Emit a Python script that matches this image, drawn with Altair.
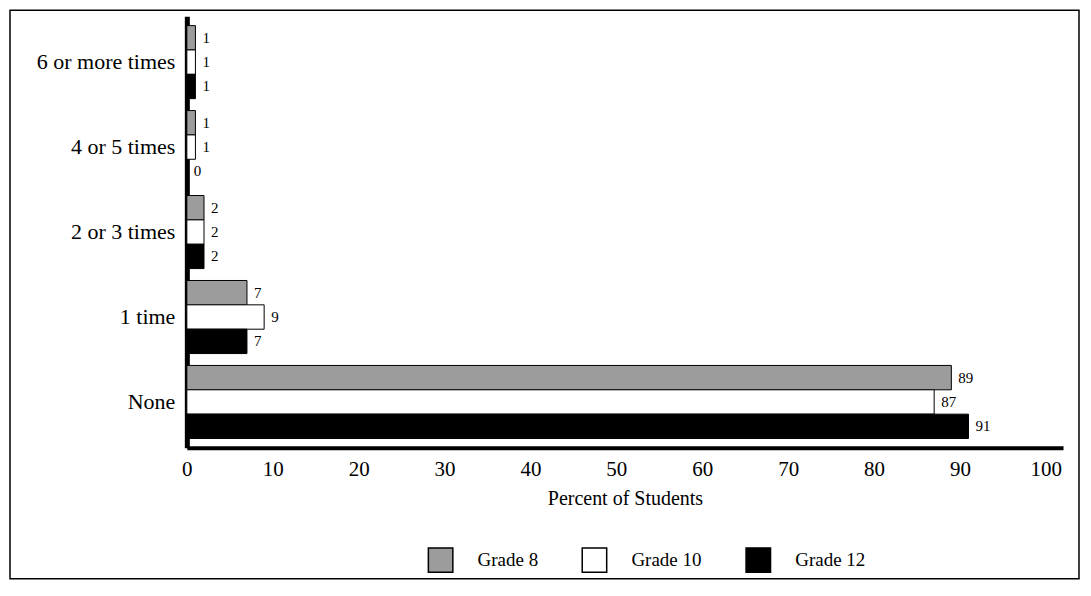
import altair as alt
import pandas as pd

categories = ["6 or more times", "4 or 5 times", "2 or 3 times", "1 time", "None"]
grades = ["Grade 8", "Grade 10", "Grade 12"]
grade8 = [1, 1, 2, 7, 89]
grade10 = [1, 1, 2, 9, 87]
grade12 = [1, 0, 2, 7, 91]
x_ticks = [0, 10, 20, 30, 40, 50, 60, 70, 80, 90, 100]
grade_colors = ["#9c9c9c", "#ffffff", "#000000"]

rows = []
for series, name in zip([grade8, grade10, grade12], grades):
    for cat, v in zip(categories, series):
        rows.append({"category": cat, "grade": name, "value": v})
df = pd.DataFrame(rows)

FONT = "Liberation Serif"

base = alt.Chart(df).encode(
    y=alt.Y(
        "category:N",
        sort=categories,
        scale=alt.Scale(paddingInner=0.14, paddingOuter=0.11),
        axis=alt.Axis(
            title=None, ticks=False, labelPadding=12, labelFontSize=22,
            labelFont=FONT, labelColor="black", domainColor="black",
            domainWidth=5, labelLimit=300,
        ),
    ),
    yOffset=alt.YOffset("grade:N", sort=grades,
                        scale=alt.Scale(paddingInner=0, paddingOuter=0)),
    x=alt.X(
        "value:Q",
        scale=alt.Scale(domain=[0, 102], nice=False),
        axis=alt.Axis(
            title="Percent of Students", values=x_ticks, ticks=False,
            grid=False, labelPadding=11, labelFontSize=21, labelFont=FONT,
            labelColor="black", domainColor="black", domainWidth=4,
            titleFont=FONT, titleFontSize=20, titleFontWeight="normal",
            titleColor="black", titlePadding=9, labelFlush=False,
        ),
    ),
)

bars = base.mark_bar(stroke="black", strokeWidth=1).encode(
    color=alt.Color(
        "grade:N",
        sort=grades,
        scale=alt.Scale(domain=grades, range=grade_colors),
        legend=alt.Legend(
            title=None, orient="none", direction="horizontal",
            legendX=241, legendY=531, symbolType="square", symbolSize=600,
            symbolStrokeColor="black", symbolStrokeWidth=1.5,
            labelFont=FONT, labelFontSize=19, labelColor="black",
            labelOffset=24, columnPadding=40,
        ),
    )
)

labels = base.mark_text(align="left", dx=7, fontSize=15, font=FONT,
                        color="black").encode(text="value:Q")

frame = alt.Chart(pd.DataFrame({"f": [0]})).mark_rect(
    fill="transparent", stroke="black", strokeWidth=1.5
).encode(
    x=alt.value(-177), x2=alt.value(893), y=alt.value(-6), y2=alt.value(563)
)

chart = alt.layer(bars, labels, frame).properties(
    width=877,
    height=432,
    autosize=alt.AutoSizeParams(type="none"),
    padding={"left": 179, "top": 8, "right": 20, "bottom": 132},
).configure_view(strokeWidth=0)

chart.save("out.html", embed_options={"renderer": "svg", "actions": False})
